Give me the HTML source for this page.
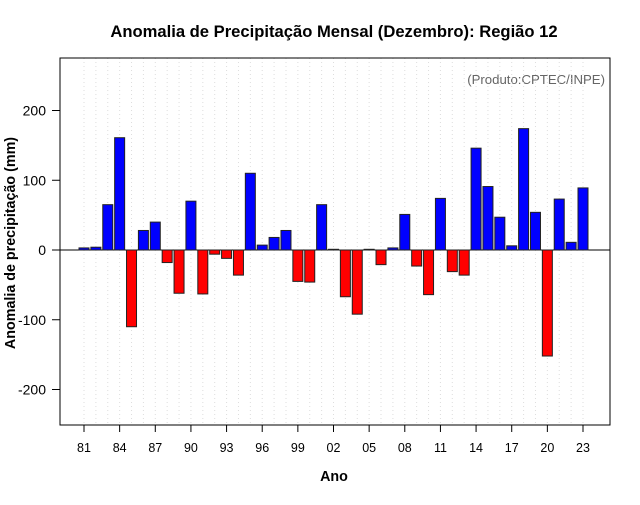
<!DOCTYPE html>
<html><head><meta charset="utf-8"><style>
body{margin:0;background:#fff;font-family:"Liberation Sans",sans-serif}
</style></head><body>
<svg id="chart" width="640" height="500" xmlns="http://www.w3.org/2000/svg" font-family="Liberation Sans, sans-serif">
<rect width="640" height="500" fill="#fff"/>
<text x="334" y="37" text-anchor="middle" font-size="16.6" font-weight="bold">Anomalia de Precipitação Mensal (Dezembro): Região 12</text>
<text transform="translate(15,243) rotate(-90)" text-anchor="middle" font-size="14.3" font-weight="bold">Anomalia de precipitação (mm)</text>
<text x="334" y="481" text-anchor="middle" font-size="14.3" font-weight="bold">Ano</text>
<text x="605" y="84" text-anchor="end" font-size="13.2" fill="#666">(Produto:CPTEC/INPE)</text>
<g id="grid"></g><g id="bars"></g><g id="axes"></g>
<rect x="60" y="58" width="550" height="367" fill="none" stroke="#000" stroke-width="1"/>
</svg>
<script>
const years = [1981,1982,1983,1984,1985,1986,1987,1988,1989,1990,1991,1992,1993,1994,1995,1996,1997,1998,1999,2000,2001,2002,2003,2004,2005,2006,2007,2008,2009,2010,2011,2012,2013,2014,2015,2016,2017,2018,2019,2020,2021,2022,2023];
const anomalies = [3,4,65,161,-110,28,40,-18,-62,70,-63,-6,-12,-36,110,7,18,28,-45,-46,65,1,-67,-92,1,-21,3,51,-23,-64,74,-31,-36,146,91,47,6,174,54,-152,73,11,89];
const yTicks = [-200,-100,0,100,200];
const NS='http://www.w3.org/2000/svg';
function xS(yr){return 84+(yr-1981)*11.881;}
function yS(v){return 250-v*0.6975;}
function mk(tag,attrs,parent){const e=document.createElementNS(NS,tag);for(const k in attrs)e.setAttribute(k,attrs[k]);document.getElementById(parent).appendChild(e);return e;}
years.forEach(yr=>{
  const g=mk('line',{x1:xS(yr),x2:xS(yr),y1:58,y2:425,stroke:'#ddd','stroke-dasharray':'1,3','stroke-width':1},'grid');
  
  
});
const z=mk('line',{x1:60,x2:610,y1:yS(0),y2:yS(0),stroke:'#000','stroke-width':1},'grid');


years.forEach((yr,i)=>{
  const v=anomalies[i];
  const y0=yS(0),y1=yS(v);
  const b=mk('rect',{x:xS(yr)-5,y:Math.min(y0,y1),width:10,height:Math.abs(y1-y0),fill:v>=0?'#0000ff':'#ff0000',stroke:'#222','stroke-width':1},'bars');
  
  
});
yTicks.forEach(t=>{
  const l=mk('line',{x1:52,x2:60,y1:yS(t),y2:yS(t),stroke:'#000'},'axes');
  
  
  const tx=mk('text',{x:46,y:yS(t)+5,'text-anchor':'end','font-size':14},'axes');
  tx.textContent=t;
  
  
});
years.filter(yr=>(yr-1981)%3===0).forEach(yr=>{
  const l=mk('line',{x1:xS(yr),x2:xS(yr),y1:425,y2:432,stroke:'#000'},'axes');
  
  
  const tx=mk('text',{x:xS(yr),y:452,'text-anchor':'middle','font-size':12.5},'axes');
  tx.textContent=String(yr%100).padStart(2,'0');
  
  
});
</script>
</body></html>
